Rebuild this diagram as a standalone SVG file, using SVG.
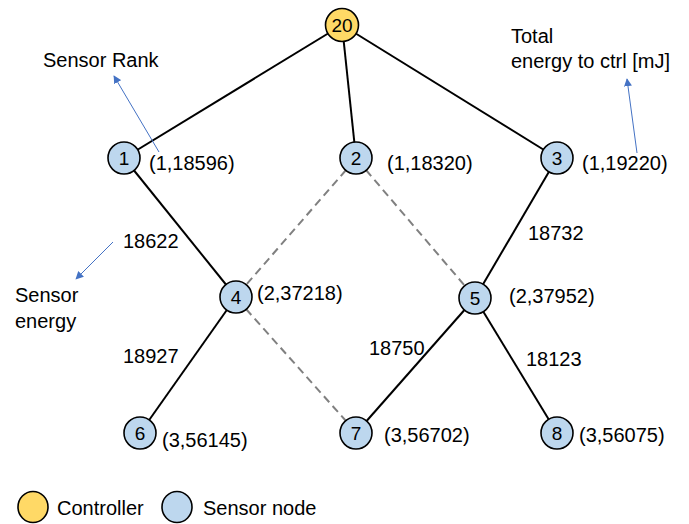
<svg xmlns="http://www.w3.org/2000/svg" width="689" height="524" viewBox="0 0 689 524">
<style>
text{font-family:"Liberation Sans",Arial,sans-serif;font-size:20px;fill:#000}
.nl{font-size:19px;text-anchor:middle;dominant-baseline:central}
.sensor{fill:#BDD7EE;stroke:#000;stroke-width:1.6}
.ctrl{fill:#FFD966;stroke:#000;stroke-width:1.6}
.solid{stroke:#000;stroke-width:2;fill:none}
.dash{stroke:#808080;stroke-width:2;stroke-dasharray:8 5;fill:none}
.ann{stroke:#4472C4;stroke-width:1;fill:none;marker-end:url(#ah)}
</style>
<defs>
<marker id="ah" viewBox="0 0 10 10" refX="9" refY="5" markerWidth="8" markerHeight="8" orient="auto" markerUnits="userSpaceOnUse">
<path d="M0,0 L10,5 L0,10 z" fill="#4472C4"/>
</marker>
</defs>
<rect width="689" height="524" fill="#fff"/>
<g id="connectors">
<line class="solid" x1="342" y1="25" x2="124" y2="158"/>
<line class="solid" x1="342" y1="25" x2="356" y2="158"/>
<line class="solid" x1="342" y1="25" x2="557" y2="158"/>
<line class="solid" x1="124" y1="158" x2="236" y2="297"/>
<line class="solid" x1="557" y1="158" x2="475" y2="298"/>
<line class="solid" x1="236" y1="297" x2="140" y2="433"/>
<line class="solid" x1="475" y1="298" x2="356" y2="433"/>
<line class="solid" x1="475" y1="298" x2="557" y2="433"/>
<line class="dash" x1="346" y1="170" x2="246" y2="285"/>
<line class="dash" x1="366" y1="170" x2="465" y2="286"/>
<line class="dash" x1="246" y1="309" x2="346" y2="421"/>
</g>
<g id="annotations">
<line class="ann" x1="159" y1="152" x2="114" y2="76"/>
<line class="ann" x1="637" y1="153" x2="627" y2="79"/>
<line class="ann" x1="113" y1="242" x2="76" y2="279"/>
<text x="43" y="67">Sensor Rank</text>
<text x="511" y="43">Total</text>
<text x="511" y="68">energy to ctrl [mJ]</text>
<text x="15" y="302">Sensor</text>
<text x="15" y="328">energy</text>
</g>
<g id="node20"><circle class="ctrl" cx="342" cy="25" r="16.5"/><text class="nl" x="342" y="25">20</text></g>
<g id="node1"><circle class="sensor" cx="124" cy="158" r="16"/><text class="nl" x="124" y="158">1</text><text x="149" y="170">(1,18596)</text></g>
<g id="node2"><circle class="sensor" cx="356" cy="158" r="16"/><text class="nl" x="356" y="158">2</text><text x="387" y="170">(1,18320)</text></g>
<g id="node3"><circle class="sensor" cx="557" cy="158" r="16"/><text class="nl" x="557" y="158">3</text><text x="582" y="170">(1,19220)</text></g>
<g id="node4"><circle class="sensor" cx="236" cy="297" r="16"/><text class="nl" x="236" y="297">4</text><text x="257" y="300">(2,37218)</text></g>
<g id="node5"><circle class="sensor" cx="475" cy="298" r="16"/><text class="nl" x="475" y="298">5</text><text x="509" y="303">(2,37952)</text></g>
<g id="node6"><circle class="sensor" cx="140" cy="433" r="16"/><text class="nl" x="140" y="433">6</text><text x="162" y="447">(3,56145)</text></g>
<g id="node7"><circle class="sensor" cx="356" cy="433" r="16"/><text class="nl" x="356" y="433">7</text><text x="384" y="442">(3,56702)</text></g>
<g id="node8"><circle class="sensor" cx="557" cy="433" r="16"/><text class="nl" x="557" y="433">8</text><text x="579" y="442">(3,56075)</text></g>
<g id="edge-labels">
<text x="123" y="248">18622</text>
<text x="123" y="363">18927</text>
<text x="528" y="240">18732</text>
<text x="369" y="355">18750</text>
<text x="526" y="366">18123</text>
</g>
<g id="legend">
<ellipse class="ctrl" cx="33" cy="507" rx="15" ry="15.5"/>
<text x="57" y="515">Controller</text>
<ellipse class="sensor" cx="177" cy="507" rx="15" ry="15.5"/>
<text x="203" y="515">Sensor node</text>
</g>
</svg>
